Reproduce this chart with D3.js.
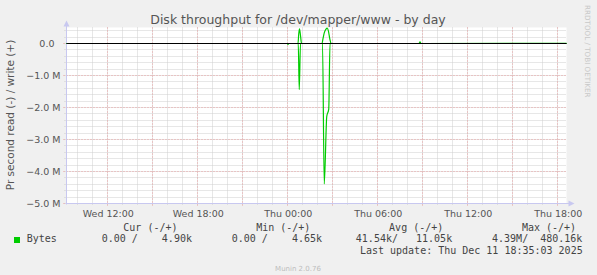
<!DOCTYPE html>
<html>
<head>
<meta charset="utf-8">
<script src="https://cdn.jsdelivr.net/npm/d3@7"></script>
<style>
  body { margin: 0; background: #f0f0f0; }
  svg { display: block; }
  text { font-family: "DejaVu Sans", sans-serif; }
  .mono { font-family: "DejaVu Sans Mono", monospace; font-size: 10px; fill: #444; }
</style>
</head>
<body>
<div class="holder"></div>
<script>
const title = 'Disk throughput for /dev/mapper/www - by day';
const yLabel = 'Pr second read (-) / write (+)';

// time points (local) and bytes/s, read is drawn below zero
const readTimes = [
  '2025-12-10T09:15', '2025-12-10T23:57', '2025-12-11T00:01', '2025-12-11T00:05',
  '2025-12-11T00:42', '2025-12-11T00:46', '2025-12-11T00:51',
  '2025-12-11T02:19', '2025-12-11T02:26', '2025-12-11T02:36', '2025-12-11T02:44', '2025-12-11T02:49',
  '2025-12-11T18:35'
];
const readValues = [
  0, 0, 30000, 0,
  0, 1440000, 0,
  0, 4390000, 2280000, 2050000, 0,
  0
];
const writeTimes = [
  '2025-12-10T09:15', '2025-12-11T00:41', '2025-12-11T00:44', '2025-12-11T00:47', '2025-12-11T00:51', '2025-12-11T00:55',
  '2025-12-11T02:17', '2025-12-11T02:21', '2025-12-11T02:26', '2025-12-11T02:33', '2025-12-11T02:38', '2025-12-11T02:43', '2025-12-11T02:48', '2025-12-11T02:54',
  '2025-12-11T08:45', '2025-12-11T08:49', '2025-12-11T08:53',
  '2025-12-11T18:35'
];
const writeValues = [
  0, 0, 300000, 460000, 250000, 0,
  0, 150000, 330000, 450000, 480000, 380000, 150000, 0,
  0, 50000, 0,
  4900
];

const legendHeaders = ['Cur (-/+)', 'Min (-/+)', 'Avg (-/+)', 'Max (-/+)'];
const legendRead = ['0.00 ', '0.00 ', '41.54k', '4.39M'];
const legendWrite = ['4.90k', '4.65k', '11.05k', '480.16k'];
const seriesName = 'Bytes';
const lastUpdate = 'Last update: Thu Dec 11 18:35:03 2025';

const yTicks = [-5e6, -4e6, -3e6, -2e6, -1e6, 0];

const W = 597, H = 275;
const pLeft = 66.5, pRight = 566.5, pTop = 27.5, pBottom = 203.5;

const parse = d3.timeParse('%Y-%m-%dT%H:%M');

const x = d3.scaleTime()
  .domain([parse('2025-12-10T09:15'), parse('2025-12-11T18:35')])
  .range([pLeft, pRight]);

const y = d3.scaleLinear()
  .domain([-5e6, 0.5e6])
  .range([pBottom, pTop]);

const svg = d3.select('.holder').append('svg')
  .attr('width', W)
  .attr('height', H);

svg.append('rect').attr('width', W).attr('height', H).attr('fill', '#f0f0f0');
svg.append('rect')
  .attr('x', pLeft).attr('y', pTop)
  .attr('width', pRight - pLeft).attr('height', pBottom - pTop)
  .attr('fill', '#ffffff');

const px = v => Math.round(v - 0.5) + 0.5;

// minor grid
const grid = svg.append('g');
grid.selectAll('.vmin')
  .data(x.ticks(d3.timeHour.every(1)))
  .enter().append('line')
  .attr('x1', d => px(x(d))).attr('x2', d => px(x(d)))
  .attr('y1', pTop).attr('y2', pBottom + 2)
  .attr('stroke', '#cfcfcf').attr('stroke-dasharray', '1,1');
grid.selectAll('.hmin')
  .data(y.ticks(25))
  .enter().append('line')
  .attr('x1', pLeft - 2).attr('x2', pRight)
  .attr('y1', d => px(y(d))).attr('y2', d => px(y(d)))
  .attr('stroke', '#cfcfcf').attr('stroke-dasharray', '1,1');

// major grid
grid.selectAll('.vmaj')
  .data(x.ticks(d3.timeHour.every(3)))
  .enter().append('line')
  .attr('x1', d => px(x(d))).attr('x2', d => px(x(d)))
  .attr('y1', pTop).attr('y2', pBottom + 3)
  .attr('stroke', '#e8a0a0').attr('stroke-dasharray', '1,2');
grid.selectAll('.hmaj')
  .data(yTicks)
  .enter().append('line')
  .attr('x1', pLeft - 3).attr('x2', pRight)
  .attr('y1', d => px(y(d))).attr('y2', d => px(y(d)))
  .attr('stroke', '#e8a0a0').attr('stroke-dasharray', '1,2');

// axis lines with arrows
svg.append('line')
  .attr('x1', pLeft).attr('x2', pLeft).attr('y1', pTop - 4).attr('y2', pBottom + 1)
  .attr('stroke', '#c8c8f0');
svg.append('line')
  .attr('x1', pLeft - 1).attr('x2', pRight + 4).attr('y1', pBottom).attr('y2', pBottom)
  .attr('stroke', '#c8c8f0');
svg.append('path')
  .attr('d', `M${pLeft - 3},${pTop - 1}L${pLeft + 3},${pTop - 1}L${pLeft},${pTop - 7}Z`)
  .attr('fill', '#c8c8f0');
svg.append('path')
  .attr('d', `M${pRight + 2},${pBottom - 3}L${pRight + 2},${pBottom + 3}L${pRight + 8},${pBottom}Z`)
  .attr('fill', '#c8c8f0');

// data lines
const line = d3.line()
  .x(d => x(d[0]))
  .y(d => y(d[1]))
  .curve(d3.curveMonotoneX);

const readData = readTimes.map((t, i) => [parse(t), -readValues[i]]);
const writeData = writeTimes.map((t, i) => [parse(t), writeValues[i]]);

svg.append('path')
  .datum(readData)
  .attr('d', line)
  .attr('fill', 'none')
  .attr('stroke', '#00cc00')
  .attr('stroke-width', 1.2);
svg.append('path')
  .datum(writeData)
  .attr('d', line)
  .attr('fill', 'none')
  .attr('stroke', '#00cc00')
  .attr('stroke-width', 1.2);

// zero rule
svg.append('line')
  .attr('x1', pLeft).attr('x2', pRight)
  .attr('y1', px(y(0))).attr('y2', px(y(0)))
  .attr('stroke', '#000000');

// axes labels
const yAxis = d3.axisLeft(y)
  .tickValues(yTicks)
  .tickSize(0)
  .tickPadding(6)
  .tickFormat(d => d === 0 ? '0.0\u00a0\u00a0' : d3.format('.1f')(d / 1e6) + ' M');
const gy = svg.append('g')
  .attr('transform', `translate(${pLeft},0)`)
  .call(yAxis);
gy.select('.domain').remove();
gy.selectAll('text')
  .attr('font-family', '"DejaVu Sans", sans-serif')
  .attr('font-size', '9.5px')
  .attr('fill', '#555')
  .attr('dy', '0.35em');

const xAxis = d3.axisBottom(x)
  .ticks(d3.timeHour.every(6))
  .tickSize(0)
  .tickPadding(0)
  .tickFormat(d3.timeFormat('%a %H:%M'));
const gx = svg.append('g')
  .attr('transform', `translate(0,${pBottom})`)
  .call(xAxis);
gx.select('.domain').remove();
gx.selectAll('text')
  .attr('font-family', '"DejaVu Sans", sans-serif')
  .attr('font-size', '9.5px')
  .attr('fill', '#555')
  .attr('y', 13)
  .attr('dy', 0);

// title
svg.append('text')
  .attr('x', 298)
  .attr('y', 24)
  .attr('text-anchor', 'middle')
  .attr('font-size', '12.5px')
  .attr('fill', '#555')
  .text(title);

svg.append('text')
  .attr('transform', 'translate(14,115) rotate(-90)')
  .attr('text-anchor', 'middle')
  .attr('font-size', '10.5px')
  .attr('fill', '#555')
  .text(yLabel);

svg.append('text')
  .attr('transform', 'translate(584.5,5) rotate(90)')
  .attr('font-size', '7.2px')
  .attr('fill', '#c8c8c8')
  .text('RRDTOOL / TOBI OETIKER');

// legend
const headerX = [123.3, 256.2, 389.1, 521.9];
const colX = [89.6, 219.7, 349.8, 480];

svg.selectAll('.hdr')
  .data(legendHeaders)
  .enter().append('text')
  .attr('class', 'mono')
  .attr('x', (d, i) => headerX[i])
  .attr('y', 230.5)
  .text(d => d);

svg.append('rect')
  .attr('x', 14).attr('y', 237).attr('width', 6).attr('height', 6)
  .attr('fill', '#00cc00');
svg.append('text')
  .attr('class', 'mono')
  .attr('x', 26.7).attr('y', 242.3)
  .text(seriesName);

svg.selectAll('.val')
  .data(legendRead)
  .enter().append('text')
  .attr('class', 'mono')
  .attr('xml:space', 'preserve')
  .style('white-space', 'pre')
  .attr('x', (d, i) => colX[i])
  .attr('y', 242.3)
  .text((d, i) => d.padStart(7, ' ') + '/  ' + legendWrite[i].padStart(7, ' '));

svg.append('text')
  .attr('class', 'mono')
  .attr('x', 582.7).attr('y', 254.3)
  .attr('text-anchor', 'end')
  .text(lastUpdate);

svg.append('text')
  .attr('x', 298).attr('y', 271)
  .attr('text-anchor', 'middle')
  .attr('font-size', '7px')
  .attr('fill', '#bdbdbd')
  .text('Munin 2.0.76');
</script>
</body>
</html>
